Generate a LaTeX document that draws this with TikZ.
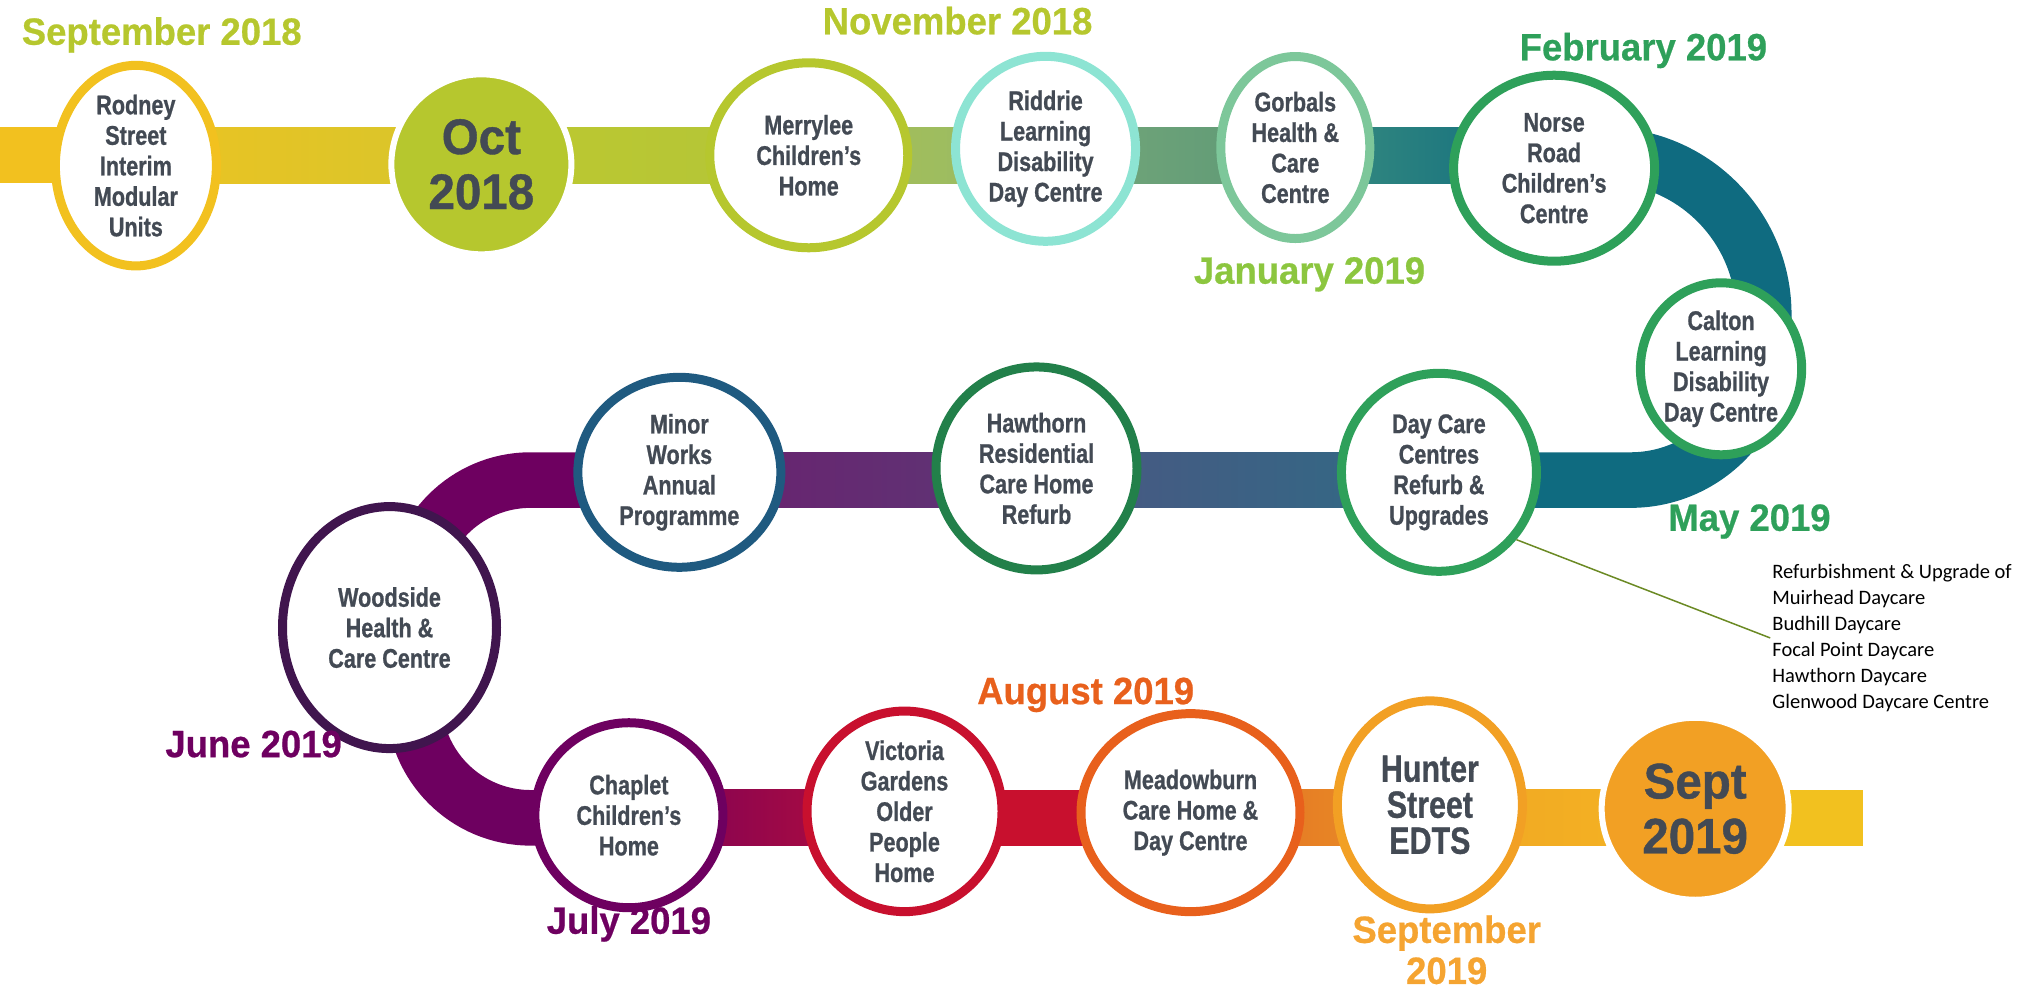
\documentclass[tikz,border=0pt]{standalone}
\usepackage{fontspec}
\setmainfont{Liberation Sans}
\newfontfamily\condfont[FakeStretch=0.8,FakeBold=0.8]{Liberation Sans Bold}
\newfontfamily\bigfont[FakeStretch=0.95,FakeBold=0.8]{Liberation Sans Bold}
\newfontfamily\datefont[FakeStretch=0.96,FakeBold=0.6]{Liberation Sans Bold}
\newfontfamily\notefont{Carlito}
\usetikzlibrary{shapes.geometric,backgrounds,calc}

\definecolor{txtgray}{HTML}{434A54}
\definecolor{cYellow}{HTML}{F2C11F}
\definecolor{cLime}{HTML}{B6C72E}
\definecolor{cMint}{HTML}{8DE4D3}
\definecolor{cSage}{HTML}{7DC79A}
\definecolor{cGreen}{HTML}{2EA05A}
\definecolor{cForest}{HTML}{22804A}
\definecolor{cBlue}{HTML}{1F5A80}
\definecolor{cAubergine}{HTML}{40154E}
\definecolor{cPurple}{HTML}{6E0060}
\definecolor{cRed}{HTML}{C8102E}
\definecolor{cOrange}{HTML}{E8601C}
\definecolor{cAmber}{HTML}{F2A024}
\definecolor{cJanuary}{HTML}{8CC63F}
\definecolor{cSeptember}{HTML}{F5A431}
\definecolor{cTeal}{HTML}{0F6B80}
\definecolor{cOlive}{HTML}{6B8A24}

\tikzset{
	ring/.style={ellipse, draw=#1, line width=9pt, fill=white, text=txtgray, align=center,
		inner sep=0pt, font=\condfont\fontsize{27}{30.5}\selectfont},
	disc/.style={ellipse, draw=white, line width=6pt, fill=#1, text=txtgray, align=center,
		inner sep=0pt, font=\bigfont\fontsize{50}{55}\selectfont},
	date/.style={text=#1, align=center, inner sep=0pt, font=\datefont\fontsize{38}{41}\selectfont},
	band/.style={draw=#1, line width=55.6pt},
	note/.style={align=left, inner sep=2pt, font=\notefont\fontsize{20.5}{26}\selectfont},
	leader/.style={draw=cOlive, line width=1.5pt}
}

\begin{document}
\begin{tikzpicture}[x=1.294pt, y=-1.294pt]

	\useasboundingbox (0,0) rectangle (1568,767);	% page frame

	\coordinate (topline) at (0,120);
	\coordinate (midline) at (0,371);
	\coordinate (botline) at (0,632);
	\coordinate (lineend) at (1440,632);

	% top row
	\node[ring=cYellow, minimum width=161pt, minimum height=179pt] (rodney) at (105,128) {Rodney\\Street\\Interim\\Modular\\Units};
	\node[disc=cLime, minimum width=180pt, minimum height=180pt] (oct) at (372,127) {Oct\\2018};
	\node[ring=cLime, minimum width=198pt, minimum height=185pt] (merrylee) at (625,120) {Merrylee\\Children’s\\Home};
	\node[ring=cMint, minimum width=180pt, minimum height=185pt] (riddrie) at (808,115) {Riddrie\\Learning\\Disability\\Day Centre};
	\node[ring=cSage, minimum width=149pt, minimum height=182pt] (gorbals) at (1001,114) {Gorbals\\Health \&\\Care\\Centre};
	\node[ring=cGreen, minimum width=201pt, minimum height=186pt] (norse) at (1201,130) {Norse\\Road\\Children’s\\Centre};
	\node[ring=cGreen, minimum width=161pt, minimum height=172pt] (calton) at (1330,285) {Calton\\Learning\\Disability\\Day Centre};

	% middle row
	\node[ring=cGreen, minimum width=195pt, minimum height=198pt] (daycare) at (1112,365) {Day Care\\Centres\\Refurb \&\\Upgrades};
	\node[ring=cForest, minimum width=201pt, minimum height=203pt] (hawthorn) at (801,362) {Hawthorn\\Residential\\Care Home\\Refurb};
	\node[ring=cBlue, minimum width=203pt, minimum height=190pt] (minor) at (525,365) {Minor\\Works\\Annual\\Programme};
	\node[ring=cAubergine, minimum width=214pt, minimum height=242pt] (woodside) at (301,485) {Woodside\\Health \&\\Care Centre};

	% bottom row
	\node[ring=cPurple, minimum width=188pt, minimum height=185pt] (chaplet) at (486,630) {Chaplet\\Children’s\\Home};
	\node[ring=cRed, minimum width=195pt, minimum height=193pt] (victoria) at (699,627) {Victoria\\Gardens\\Older\\People\\Home};
	\node[ring=cOrange, minimum width=219pt, minimum height=198pt] (meadowburn) at (920,628) {Meadowburn\\Care Home \&\\Day Centre};
	\node[ring=cAmber, minimum width=185pt, minimum height=208pt, font=\condfont\fontsize{38}{36}\selectfont] (hunter) at (1105,622) {Hunter\\Street\\EDTS};
	\node[disc=cAmber, minimum width=187pt, minimum height=182pt] (sept) at (1310,625) {Sept\\2019};

	% the road behind the circles
	\begin{scope}[on background layer]
		\fill[cYellow] ($(topline)+(0,-21.5)$) rectangle ($(rodney |- topline)+(0,21.5)$);
		\fill[left color={rgb,255:red,236;green,195;blue,34}, right color={rgb,255:red,214;green,198;blue,44}] ($(rodney |- topline)+(0,-21.5)$) rectangle ($(oct |- topline)+(0,21.5)$);
		\fill[left color={rgb,255:red,190;green,201;blue,46}, right color={rgb,255:red,178;green,196;blue,58}] ($(oct |- topline)+(0,-21.5)$) rectangle ($(merrylee |- topline)+(0,21.5)$);
		\fill[left color={rgb,255:red,168;green,192;blue,84}, right color={rgb,255:red,150;green,186;blue,104}] ($(merrylee |- topline)+(0,-21.5)$) rectangle ($(riddrie |- topline)+(0,21.5)$);
		\fill[left color={rgb,255:red,118;green,168;blue,122}, right color={rgb,255:red,92;green,152;blue,118}] ($(riddrie |- topline)+(0,-21.5)$) rectangle ($(gorbals |- topline)+(0,21.5)$);
		\fill[left color={rgb,255:red,58;green,142;blue,126}, right color=cTeal] ($(gorbals |- topline)+(0,-21.5)$) rectangle ($(norse |- topline)+(0,21.5)$);
		\draw[band=cTeal] (norse |- topline) -- (1240,120) arc[start angle=270, end angle=360, radius=123]
			-- (1363,268) arc[start angle=0, end angle=90, radius=103] -- (daycare |- midline);
		\fill[left color={rgb,255:red,75;green,86;blue,131}, right color={rgb,255:red,47;green,107;blue,132}] ($(hawthorn |- midline)+(0,-21.5)$) rectangle ($(daycare |- midline)+(0,21.5)$);
		\fill[left color={rgb,255:red,107;green,31;blue,110}, right color={rgb,255:red,92;green,56;blue,118}] ($(minor |- midline)+(0,-21.5)$) rectangle ($(hawthorn |- midline)+(0,21.5)$);
		\draw[band=cPurple] (minor |- midline) -- (410,371) arc[start angle=270, end angle=180, radius=90]
			-- (320,542) arc[start angle=180, end angle=90, radius=90] -- (chaplet |- botline);
		\fill[left color={rgb,255:red,122;green,0;blue,88}, right color={rgb,255:red,184;green,15;blue,58}] ($(chaplet |- botline)+(0,-21.5)$) rectangle ($(victoria |- botline)+(0,21.5)$);
		\fill[cRed] ($(victoria |- botline)+(0,-21.5)$) rectangle ($(meadowburn |- botline)+(0,21.5)$);
		\fill[left color={rgb,255:red,227;green,106;blue,34}, right color={rgb,255:red,234;green,150;blue,40}] ($(meadowburn |- botline)+(0,-21.5)$) rectangle ($(hunter |- botline)+(0,21.5)$);
		\fill[left color={rgb,255:red,242;green,166;blue,35}, right color={rgb,255:red,243;green,181;blue,35}] ($(hunter |- botline)+(0,-21.5)$) rectangle ($(sept |- botline)+(0,21.5)$);
		\fill[cYellow] ($(sept |- botline)+(0,-21.5)$) rectangle ($(lineend)+(0,21.5)$);
	\end{scope}

	% dates
	\node[date=cLime] (sep18) at (125,27) {September 2018};
	\node[date=cLime] (nov18) at (740,16) {November 2018};
	\node[date=cJanuary] (jan19) at (1012,212) {January 2019};
	\node[date=cGreen] (feb19) at (1270,39) {February 2019};
	\node[date=cGreen] (may19) at (1352,403) {May 2019};
	\node[date=cPurple] (jun19) at (196,575) {June 2019};
	\node[date=cPurple] (jul19) at (486,714) {July 2019};
	\node[date=cOrange] (aug19) at (839,537) {August 2019};
	\node[date=cSeptember] (sep19) at (1118,734) {September\\2019};

	% day care note
	\node[note, anchor=west] (daynote) at (1368,493) {Refurbishment \& Upgrade of\\Muirhead Daycare\\Budhill Daycare\\Focal Point Daycare\\Hawthorn Daycare\\Glenwood Daycare Centre};
	\draw[leader] (daycare.-41) -- (daynote.west);

\end{tikzpicture}
\end{document}
